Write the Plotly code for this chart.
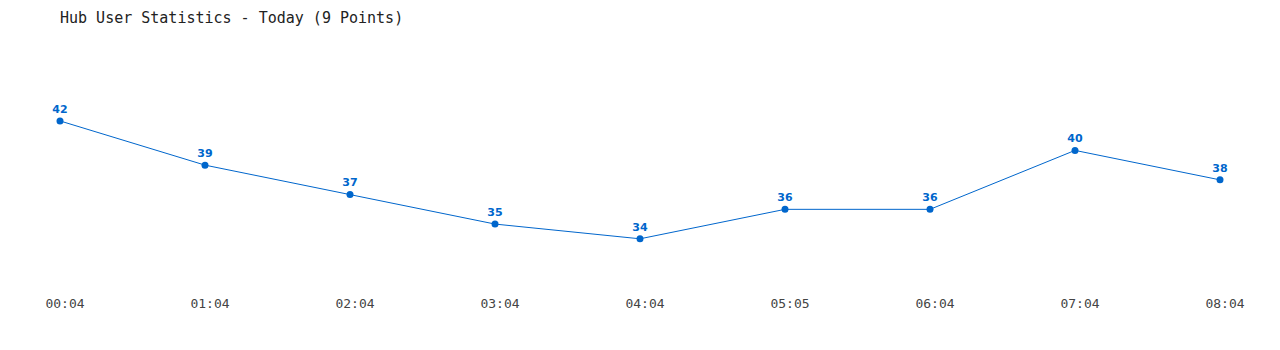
import plotly.graph_objects as go

times = ["00:04", "01:04", "02:04", "03:04", "04:04", "05:05", "06:04", "07:04", "08:04"]
users = [42, 39, 37, 35, 34, 36, 36, 40, 38]

color = "#0066CC"

fig = go.Figure()
fig.add_trace(go.Scatter(
    x=times, y=users, mode="lines+markers+text",
    line=dict(color=color, width=1),
    marker=dict(color=color, size=7),
    text=[str(v) for v in users],
    textposition="top center",
    textfont=dict(family="Verdana, DejaVu Sans", size=11, color=color, weight="bold"),
    cliponaxis=False,
    hoverinfo="x+y",
))

fig.update_layout(
    width=1280, height=350,
    margin=dict(l=60, r=60, t=62, b=350 - 283),
    paper_bgcolor="white", plot_bgcolor="white",
    showlegend=False,
    title=dict(
        text="Hub User Statistics - Today (9 Points)",
        x=0, xanchor="left", xref="paper",
        y=1 - 18 / 350, yanchor="middle", yref="container",
        font=dict(family="DejaVu Sans Mono", size=15, color="#222"),
    ),
)
fig.update_xaxes(
    type="category", range=[0, 8],
    showgrid=False, zeroline=False, showline=False,
    ticks="", ticklabelstandoff=11, ticklabelshift=5,
    tickfont=dict(family="DejaVu Sans Mono", size=13, color="#444"),
)
fig.update_yaxes(
    range=[31, 46], showgrid=False, zeroline=False, showline=False,
    showticklabels=False, ticks="",
)

fig.write_html("out.html")
